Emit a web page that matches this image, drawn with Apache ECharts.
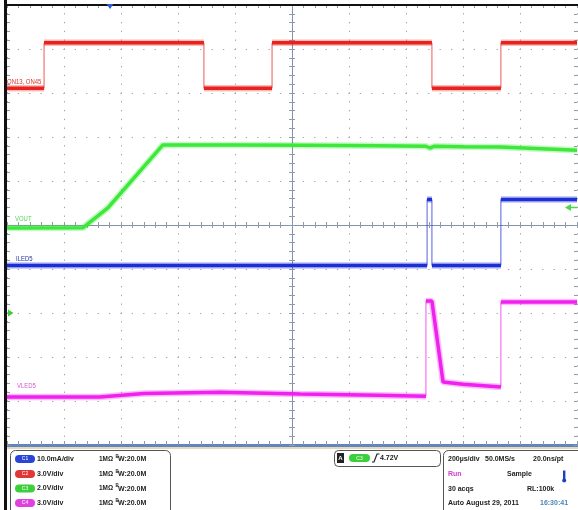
<!DOCTYPE html>
<html><head><meta charset="utf-8">
<script src="https://cdn.jsdelivr.net/npm/echarts@6/dist/echarts.min.js"></script>
<style>html,body{margin:0;padding:0;background:#fff}#c{width:578px;height:510px}</style>
</head><body><div id="c"></div>
<script>
// Horizontal: time in microseconds relative to screen centre (200 µs/div, 10 div)
// Vertical: graticule divisions relative to screen centre (10 div)
const timeMin = -1000, timeMax = 1000, timePerDiv = 200;
const divMin = -5, divMax = 5;

// C2 (red) ON13, ON45
const ch2Time = [-1000, -870, -870, -309, -309, -70, -70, 491, 491, 733, 733, 1000];
const ch2Div  = [3.11, 3.11, 4.14, 4.14, 3.11, 3.11, 4.14, 4.14, 3.11, 3.11, 4.14, 4.14];
// C3 (green) VOUT
const ch3Time = [-1000, -733, -646, -453, -200, 28, 300, 470, 484, 500, 600, 730, 1000];
const ch3Div  = [-0.07, -0.06, 0.39, 1.82, 1.82, 1.81, 1.80, 1.79, 1.75, 1.79, 1.78, 1.77, 1.70];
// C1 (blue) ILED5
const ch1Time = [-1000, 474, 474, 491, 491, 733, 733, 1000];
const ch1Div  = [-0.92, -0.92, 0.58, 0.58, -0.92, -0.92, 0.58, 0.58];
// C4 (magenta) VLED5
const ch4Time = [-1000, -674, -520, -253, 28, 300, 470, 470, 491, 530, 600, 733, 733, 1000];
const ch4Div  = [-3.91, -3.91, -3.83, -3.80, -3.84, -3.87, -3.89, -1.73, -1.73, -3.57, -3.62, -3.68, -1.75, -1.75];

const traceNames = ['ON13, ON45', 'VOUT', 'ILED5', 'VLED5'];
const chanScales = ['10.0mA/div', '3.0V/div', '2.0V/div', '3.0V/div'];
const chanIds = ['C1', 'C2', 'C3', 'C4'];

const FONT = '"Liberation Sans", Arial, sans-serif';
const colRed = '#e8231d', colGreen = '#3de83a', colBlue = '#1c2ed6', colMag = '#f020ee';

function makeSeries(times, divs, color) {
  const full = times.map((t, i) => [t, divs[i]]);
  const thick = [];
  times.forEach((t, i) => {
    if (i > 0 && t === times[i - 1]) thick.push([t, '-']);
    thick.push([t, divs[i]]);
  });
  const base = {type: 'line', symbol: 'none', connectNulls: false, silent: true, animation: false};
  return [
    Object.assign({}, base, {data: thick, lineStyle: {color, width: 6.5, opacity: 0.3}}),
    Object.assign({}, base, {data: full, lineStyle: {color, width: 1, opacity: 0.75}}),
    Object.assign({}, base, {data: thick, lineStyle: {color, width: 3.5}})
  ];
}

const tickCol = '#8f9aab';
function xAx(extra) {
  return Object.assign({type: 'value', min: timeMin, max: timeMax, interval: timePerDiv,
    axisLabel: {show: false}, splitLine: {show: false},
    minorTick: {show: true, splitNumber: 5, length: 3, lineStyle: {color: tickCol, width: 1}},
    axisTick: {show: true, length: 3, lineStyle: {color: tickCol, width: 1}}}, extra);
}
function yAx(extra) {
  return Object.assign({type: 'value', min: divMin, max: divMax, interval: 1,
    axisLabel: {show: false}, splitLine: {show: false},
    minorTick: {show: true, splitNumber: 5, length: 3, lineStyle: {color: tickCol, width: 1}},
    axisTick: {show: true, length: 3, lineStyle: {color: tickCol, width: 1}}}, extra);
}

const xAxes = [
  xAx({position: 'bottom', axisLine: {onZero: false, show: true, lineStyle: {color: '#5f86bf', width: 3}},
       axisTick: {show: true, inside: true, length: 4, lineStyle: {color: tickCol}},
       minorTick: {show: true, splitNumber: 5, length: 4, lineStyle: {color: tickCol}},
       splitLine: {show: true, lineStyle: {color: '#a3a3a3', width: 1, type: [1.3, 7.5], dashOffset: 0.65}}}),
  xAx({position: 'top', axisLine: {onZero: false, show: false}, axisTick: {show: true, inside: true, length: 3, lineStyle: {color: tickCol}},
       minorTick: {show: true, splitNumber: 5, length: 3, lineStyle: {color: tickCol}}}),
  xAx({position: 'bottom', axisLine: {onZero: true, onZeroAxisIndex: 0, show: true, lineStyle: {color: '#8391a6', width: 1}},
       axisTick: {show: true, inside: true, length: 3, lineStyle: {color: tickCol}},
       minorTick: {show: true, splitNumber: 5, length: 3, lineStyle: {color: tickCol}}}),
  xAx({position: 'bottom', axisLine: {onZero: true, onZeroAxisIndex: 0, show: true, lineStyle: {opacity: 0}},
       axisTick: {show: true, inside: false, length: 3, lineStyle: {color: tickCol}},
       minorTick: {show: true, splitNumber: 5, length: 3, lineStyle: {color: tickCol}}})
];
const yAxes = [
  yAx({position: 'left', axisLine: {onZero: false, show: false},
       axisTick: {show: true, inside: true, length: 3, lineStyle: {color: tickCol}},
       minorTick: {show: true, splitNumber: 5, length: 3, lineStyle: {color: tickCol}},
       splitLine: {show: true, lineStyle: {color: '#a3a3a3', width: 1, type: [1.3, 10.1], dashOffset: 0.65}}}),
  yAx({position: 'right', axisLine: {onZero: false, show: false},
       axisTick: {show: true, inside: true, length: 3, lineStyle: {color: tickCol}},
       minorTick: {show: true, splitNumber: 5, length: 3, lineStyle: {color: tickCol}}}),
  yAx({position: 'left', axisLine: {onZero: true, onZeroAxisIndex: 0, show: true, lineStyle: {color: '#8391a6', width: 1}},
       axisTick: {show: true, inside: true, length: 3, lineStyle: {color: tickCol}},
       minorTick: {show: true, splitNumber: 5, length: 3, lineStyle: {color: tickCol}}}),
  yAx({position: 'left', axisLine: {onZero: true, onZeroAxisIndex: 0, show: true, lineStyle: {opacity: 0}},
       axisTick: {show: true, inside: false, length: 3, lineStyle: {color: tickCol}},
       minorTick: {show: true, splitNumber: 5, length: 3, lineStyle: {color: tickCol}}})
];

const series = [].concat(
  makeSeries(ch2Time, ch2Div, colRed),
  makeSeries(ch3Time, ch3Div, colGreen),
  makeSeries(ch1Time, ch1Div, colBlue),
  makeSeries(ch4Time, ch4Div, colMag)
);

function txt(x, y, text, fill, font, extra) {
  return Object.assign({type: 'text', x: x, y: y, z: 50,
    style: {text: text, fill: fill, font: font, verticalAlign: 'middle', align: 'left'}}, extra || {});
}
function ctxt(x, y, text, fill, font) {
  return {type: 'text', x: x, y: y, z: 51,
    style: {text: text, fill: fill, font: font, verticalAlign: 'middle', align: 'center'}};
}
const B7 = 'bold 7px ' + FONT;
const pillCols = ['#2a44d8', '#e03838', '#3ccf3c', '#e040e0'];
const rowsY = [459, 474, 488.5, 503];

const graphic = [
  // scope frame
  {type: 'rect', z: 60, shape: {x: 4, y: 0, width: 3, height: 510}, style: {fill: '#111'}},
  {type: 'rect', z: 60, shape: {x: 4, y: 4, width: 574, height: 2}, style: {fill: '#111'}},
  {type: 'rect', z: 40, shape: {x: 7, y: 447, width: 571, height: 2}, style: {fill: '#e6d8b8'}},
  // markers
  {type: 'polygon', z: 61, shape: {points: [[106.5, 4], [113.5, 4], [110, 9]]}, style: {fill: '#2a5bd7'}},
  {type: 'polygon', z: 61, shape: {points: [[565, 207.5], [571, 204], [571, 211]]}, style: {fill: '#49d849'}},
  {type: 'line', z: 61, shape: {x1: 571, y1: 207.5, x2: 577, y2: 207.5}, style: {stroke: '#49d849', lineWidth: 1.5}},
  {type: 'polygon', z: 61, shape: {points: [[8, 309.5], [8, 316.5], [13.5, 313]]}, style: {fill: '#3ccc3c'}},
  // trace labels
  txt(7, 82.5, traceNames[0], '#d23a2a', '7px ' + FONT, {scaleX: 0.85}),
  txt(15, 219.5, traceNames[1], '#55d455', '7px ' + FONT, {scaleX: 0.85}),
  txt(16, 259, traceNames[2], '#23309a', '7px ' + FONT, {scaleX: 0.85}),
  txt(17, 386, traceNames[3], '#d058d0', '7px ' + FONT, {scaleX: 0.85}),
  // panel boxes
  {type: 'rect', z: 45, shape: {x: 10.5, y: 450.5, width: 160, height: 70, r: 5}, style: {fill: '#fff', stroke: '#555', lineWidth: 1}},
  {type: 'rect', z: 45, shape: {x: 334.5, y: 450.5, width: 106, height: 16, r: 4}, style: {fill: '#fff', stroke: '#555', lineWidth: 1}},
  {type: 'rect', z: 45, shape: {x: 443.5, y: 450.5, width: 140, height: 70, r: 5}, style: {fill: '#fff', stroke: '#555', lineWidth: 1}},
  // trigger box
  {type: 'rect', z: 50, shape: {x: 337, y: 453, width: 7, height: 10}, style: {fill: '#222'}},
  ctxt(340.5, 458.3, 'A', '#fff', 'bold 6px ' + FONT),
  {type: 'rect', z: 50, shape: {x: 349, y: 454, width: 21, height: 8, r: 4}, style: {fill: pillCols[2]}},
  ctxt(359.5, 458.2, 'C3', '#fff', '5px ' + FONT),
  {type: 'polyline', z: 50, shape: {points: [[372, 462], [374, 462], [377, 454], [379.5, 454]]}, style: {stroke: '#222', lineWidth: 1.2, fill: null}},
  txt(380, 458.5, '4.72V', '#222', B7),
  // acquisition box
  txt(448, 459, '200µs/div', '#222', B7),
  txt(485, 459, '50.0MS/s', '#222', B7),
  txt(533, 459, '20.0ns/pt', '#222', B7),
  txt(448, 474, 'Run', '#d040c8', B7),
  txt(507, 474, 'Sample', '#222', B7),
  {type: 'rect', z: 50, shape: {x: 563, y: 470.5, width: 2.4, height: 9}, style: {fill: '#1d3fbf'}},
  {type: 'circle', z: 50, shape: {cx: 564.2, cy: 480.5, r: 2}, style: {fill: '#1d3fbf'}},
  txt(448, 489, '30 acqs', '#222', B7),
  txt(527, 489, 'RL:100k', '#222', B7),
  txt(448, 503.5, 'Auto', '#222', B7),
  txt(466, 503.5, 'August 29, 2011', '#222', B7),
  txt(540, 503.5, '16:30:41', '#4a86b8', B7)
];
// channel rows
for (let i = 0; i < 4; i++) {
  const y = rowsY[i];
  graphic.push({type: 'rect', z: 50, shape: {x: 15, y: y - 4, width: 20, height: 8, r: 4}, style: {fill: pillCols[i]}});
  graphic.push(ctxt(25, y, chanIds[i], '#fff', '5px ' + FONT));
  graphic.push(txt(37, y, chanScales[i], '#222', B7));
  graphic.push(txt(99, y, '1MΩ', '#222', B7, {scaleX: 0.92}));
  graphic.push(txt(115.5, y - 2.5, 'B', '#222', 'bold 4.5px ' + FONT));
  graphic.push(txt(118, y + 0.5, 'W:20.0M', '#222', B7));
}

const chart = echarts.init(document.getElementById('c'), null, {renderer: 'canvas'});
chart.setOption({
  animation: false,
  backgroundColor: '#fff',
  grid: {left: 7, right: 1, top: 5, bottom: 65, outerBoundsMode: 'none', containLabel: false},
  xAxis: xAxes,
  yAxis: yAxes,
  series: series,
  graphic: graphic
});
</script></body></html>
